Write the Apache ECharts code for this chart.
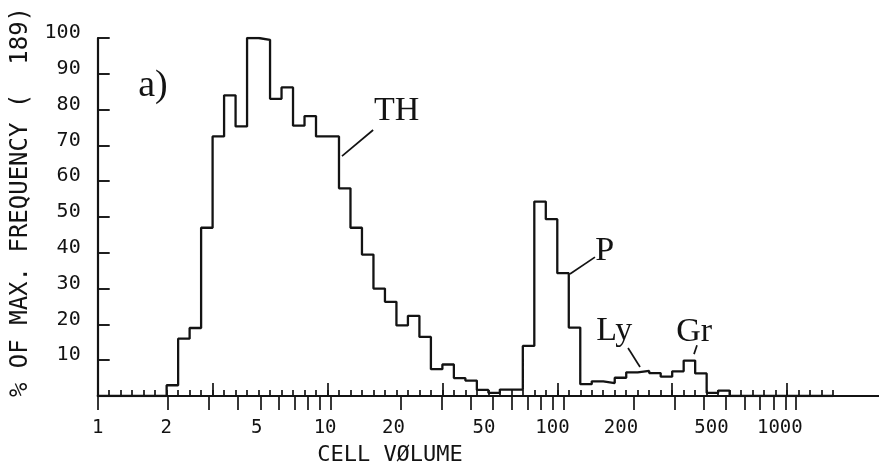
<!DOCTYPE html>
<html><head><meta charset="utf-8">
<script src="https://cdn.jsdelivr.net/npm/echarts@6/dist/echarts.min.js"></script>
<style>html,body{margin:0;padding:0;background:#fff}#c{width:879px;height:470px}</style>
</head><body><div id="c"></div>
<script>
// histogram channels: 20 channels per decade of cell volume, starting at volume 1
const binsPerDecade = 20;
const frequency = [0,0,0,0,0,0,3,16,19,47,72.5,84,75.3,100,99.5,83,86.2,75.5,78.2,72.5,
  72.5,58,47,39.5,30,26.3,19.7,22.4,16.5,7.5,8.8,5,4.3,1.7,0.9,1.8,1.8,14,54.3,49.4,
  34.3,19.1,3.3,4.1,3.6,5.1,6.6,7,6.4,5.4,6.9,9.9,6.3,0.9,1.5,0,0,0,0,0,0,0,0,0,0];
const xTickLabels = [1,2,5,10,20,50,100,200,500,1000];
const minorVolumes = [1,2,3,4,5,6,7,8,9,10,20,30,40,50,60,70,80,90,100,200,300,400,500,600,700,800,900,1000];
const yTicks = [0,10,20,30,40,50,60,70,80,90,100];
const annotations = [
  {text:'a)', v:1.74, y:86.6, size:38},
  {text:'TH', v:20, y:79.6, size:34},
  {text:'P', v:161, y:40.5, size:34},
  {text:'Ly', v:177, y:18.0, size:34},
  {text:'Gr', v:394, y:17.9, size:34}
];
const leaders = [
  [[15.8,74.3],[11.56,67.0]],
  [[145.9,38.8],[113.5,34.1]],
  [[203.2,13.4],[229.1,8.1]],
  [[405.5,14.2],[393.6,11.7]]
];

const INK = '#131313';
const MONO = '"DejaVu Sans Mono", monospace';
const lg = v => Math.log10(v);
const binEdges = frequency.map((_, k) => k / binsPerDecade);
const histData = frequency.map((f, k) => [binEdges[k], f]);
const halfDecades = binEdges.filter((_, k) => k % 10 === 0);

const chart = echarts.init(document.getElementById('c'), null, {renderer:'canvas'});
const baseX = {type:'value', gridIndex:0, position:'bottom', offset:0, min:0, max:3.4,
  splitLine:{show:false}, axisLine:{show:false}, axisLabel:{show:false}, axisTick:{show:false}};
chart.setOption({
  animation:false,
  backgroundColor:'#fff',
  grid:{left:97.7, right:0, top:38, bottom:74, containLabel:false},
  xAxis:[
    Object.assign({}, baseX, {
      axisLine:{show:true, onZero:false, lineStyle:{color:INK, width:2.2}},
      axisTick:{show:true, inside:true, length:6, customValues:binEdges, lineStyle:{color:INK, width:1.7}}
    }),
    Object.assign({}, baseX, {
      axisTick:{show:true, inside:true, length:13, customValues:halfDecades, lineStyle:{color:INK, width:1.7}}
    }),
    Object.assign({}, baseX, {max:3.356,
      axisTick:{show:true, inside:false, length:14, customValues:minorVolumes.map(lg), lineStyle:{color:INK, width:1.7}}
    }),
    Object.assign({}, baseX, {max:3.436,
      axisLabel:{show:true, customValues:xTickLabels.map(lg), margin:23,
        formatter: v => String(Math.round(Math.pow(10, v))),
        color:INK, fontFamily:MONO, fontSize:19}
    })
  ],
  yAxis:{type:'value', min:0, max:100, interval:10,
    splitLine:{show:false},
    axisLine:{show:true, onZero:false, lineStyle:{color:INK, width:2.2}},
    axisTick:{show:true, inside:true, length:12, customValues:yTicks, lineStyle:{color:INK, width:1.9}},
    axisLabel:{color:INK, fontFamily:MONO, fontSize:20, margin:17, verticalAlign:'bottom', lineHeight:10,
      formatter: v => v === 0 ? '' : String(v)}
  },
  series:[{
    type:'line', xAxisIndex:0, yAxisIndex:0, step:'end', data:histData,
    symbol:'none', lineStyle:{color:INK, width:2.3}, z:3
  }]
});

const toPx = (v, y) => chart.convertToPixel({xAxisIndex:0, yAxisIndex:0}, [lg(v), y]);
const graphics = [];
annotations.forEach(a => {
  const p = toPx(a.v, a.y);
  graphics.push({type:'text', x:p[0], y:p[1], z:10, style:{text:a.text, fill:INK,
    fontFamily:'"Liberation Serif", serif', fontSize:a.size, align:'center', verticalAlign:'middle'}});
});
leaders.forEach(l => {
  const p1 = toPx(l[0][0], l[0][1]), p2 = toPx(l[1][0], l[1][1]);
  graphics.push({type:'line', z:10, shape:{x1:p1[0], y1:p1[1], x2:p2[0], y2:p2[1]},
    style:{stroke:INK, lineWidth:1.7}});
});
graphics.push({type:'text', x:21, y:202, rotation:Math.PI/2, z:10,
  style:{text:'% OF MAX. FREQUENCY (  189)', fill:INK, fontFamily:MONO, fontSize:24, align:'center', verticalAlign:'middle'}});
graphics.push({type:'text', x:390, y:455, z:10,
  style:{text:'CELL VØLUME', fill:INK, fontFamily:MONO, fontSize:22, align:'center', verticalAlign:'middle'}});
chart.setOption({graphic:graphics});
</script></body></html>
